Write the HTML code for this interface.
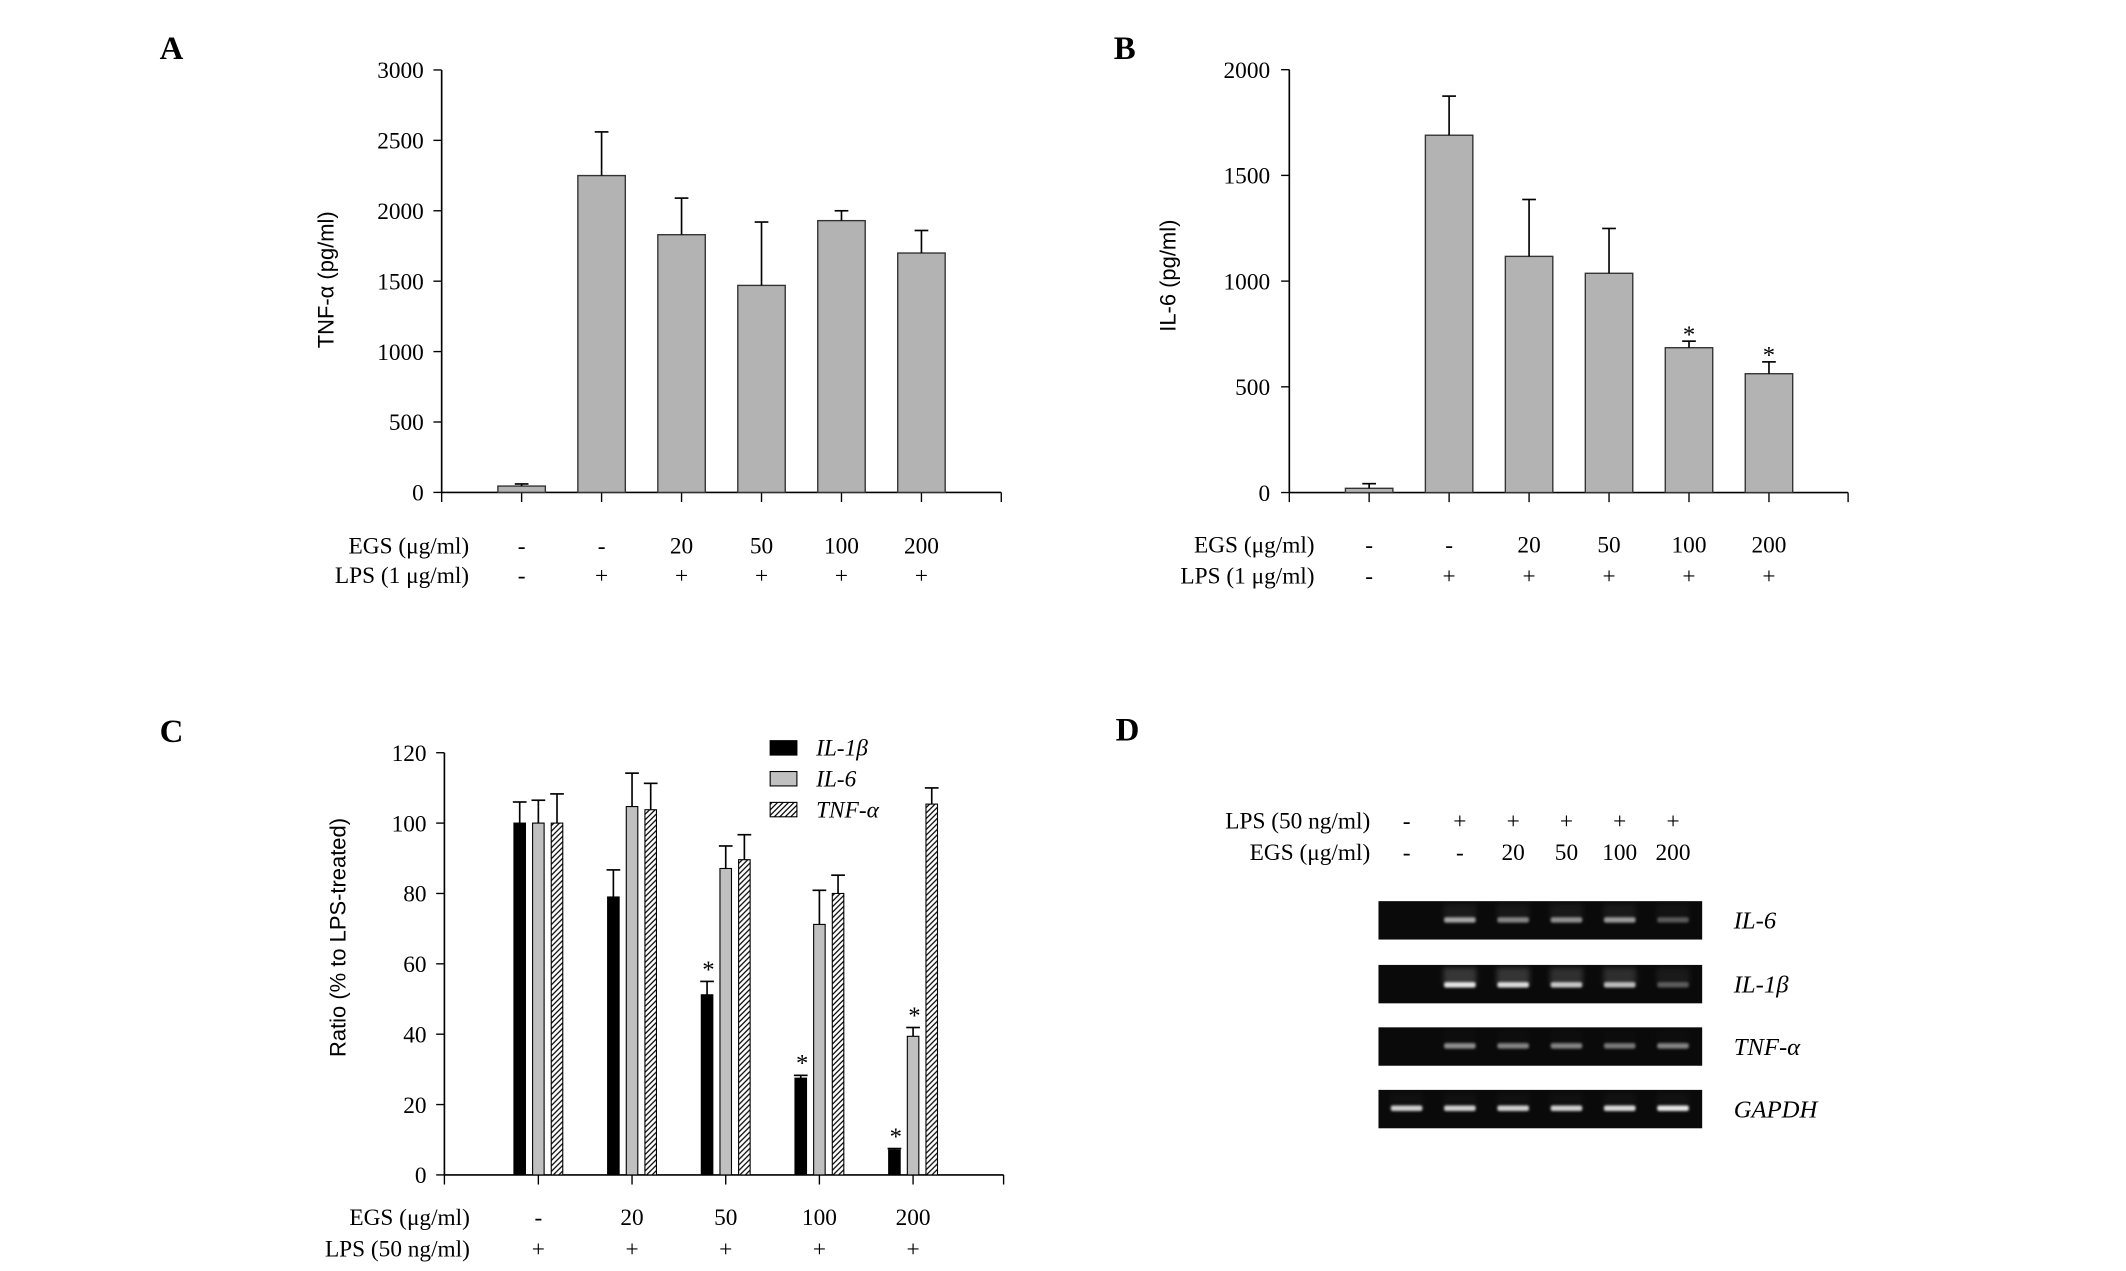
<!DOCTYPE html>
<html><head><meta charset="utf-8"><style>
html,body{margin:0;padding:0;background:#fff;}
svg{display:block;}
text{font-family:"Liberation Serif",serif;fill:#000;}
.sans{font-family:"Liberation Sans",sans-serif;}
</style></head><body>
<svg id="fig" xmlns="http://www.w3.org/2000/svg" width="2126" height="1271" viewBox="0 0 1550 926.65" preserveAspectRatio="none">
<defs>
<pattern id="hatch" patternUnits="userSpaceOnUse" width="4" height="4">
<rect width="4" height="4" fill="#fff"/>
<path d="M-1,1 l2,-2 M0,4 l4,-4 M3,5 l2,-2" stroke="#000" stroke-width="0.9"/>
</pattern>
<filter id="blur" x="-20%" y="-200%" width="140%" height="500%"><feGaussianBlur stdDeviation="0.9"/></filter>
<filter id="blur2" x="-20%" y="-100%" width="140%" height="300%"><feGaussianBlur stdDeviation="2"/></filter>
</defs>
<g id="root"></g>
</svg>
<script>
// Panel A data
const catsA = ["c1","c2","c3","c4","c5","c6"];
const egsLabels = ["-","-","20","50","100","200"];
const lpsLabels = ["-","+","+","+","+","+"];
const valsA = [45,2250,1830,1470,1930,1700];
const errA = [60,2560,2090,1920,2000,1860];
const ticksA = [0,500,1000,1500,2000,2500,3000];
// Panel B data
const valsB = [20,1690,1117,1037,685,562];
const errB = [42,1875,1386,1249,716,618];
const starsB = [0,0,0,0,1,1];
const ticksB = [0,500,1000,1500,2000];
// Panel C data
const egsC = ["-","20","50","100","200"];
const lpsC = ["+","+","+","+","+"];
const il1b = [100,79,51.2,27.5,7.1];
const il1bErr = [106,86.7,55,28.3,7.5];
const il6C = [100,104.7,87.1,71.2,39.4];
const il6Err = [106.5,114.2,93.5,80.9,41.9];
const tnfC = [100,103.8,89.6,80,105.4];
const tnfErr = [108.3,111.3,96.7,85.2,110];
const starIl1b = [0,0,1,1,1];
const starIl6 = [0,0,0,0,1];
const ticksC = [0,20,40,60,80,100,120];
// Panel D data
const lpsD = ["-","+","+","+","+","+"];
const egsD = ["-","-","20","50","100","200"];
const genes = ["IL-6","IL-1β","TNF-α","GAPDH"];
const bandIL6 = [0,0.7,0.55,0.6,0.65,0.35];
const bandIL1b = [0,1,0.95,0.85,0.8,0.35];
const bandTNF = [0,0.6,0.55,0.55,0.5,0.55];
const bandGAPDH = [0.9,0.9,0.9,0.9,0.95,1];

const NS="http://www.w3.org/2000/svg";
const root=document.getElementById('root');
function el(tag,attrs,parent,txt){const e=document.createElementNS(NS,tag);for(const k in attrs)e.setAttribute(k,attrs[k]);if(txt!==undefined)e.textContent=txt;(parent||root).appendChild(e);return e;}
function grp(name){const g=el('g',{});


return g;}

function barPanel(o){
  const g=grp(o.name);
  const y=v=>o.y0-v/o.ymax*o.yh;
  const cx=i=>o.c0+i*o.step;
  const ax=el('line',{x1:o.ax,y1:o.y0,x2:o.ax,y2:o.y0-o.yh,stroke:'#000','stroke-width':1.2},g);
  
  
  const xx=el('line',{x1:o.ax,y1:o.y0,x2:o.axEnd,y2:o.y0,stroke:'#000','stroke-width':1.2},g);
  
  
  o.ticks.forEach(t=>{
    el('line',{x1:o.ax-6,y1:y(t),x2:o.ax,y2:y(t),stroke:'#000','stroke-width':1},g);
    const tl=el('text',{x:o.tlx,y:y(t)+6,'text-anchor':'end','font-size':17},g,String(t));
    
    
  });
  const xt=[o.ax,o.axEnd];
  for(let i=0;i<o.n;i++)xt.push(cx(i));
  xt.forEach(x=>el('line',{x1:x,y1:o.y0,x2:x,y2:o.y0+7,stroke:'#000','stroke-width':1},g));
  const tt=el('text',{class:'sans',x:0,y:0,'text-anchor':'middle','font-size':16,transform:`translate(${o.tx},${o.ty}) rotate(-90)`},g,o.title);
  
  
  return {g,y,cx};
}
function errBar(g,x,yTop,yErr){
  el('line',{x1:x,y1:yTop,x2:x,y2:yErr,stroke:'#000','stroke-width':1.2},g);
  el('line',{x1:x-5,y1:yErr,x2:x+5,y2:yErr,stroke:'#000','stroke-width':1.2},g);
}
function rowLabels(g,xr,yE,yL,eTxt,lTxt,egs,lps,cx){
  const a=el('text',{x:xr,y:yE,'text-anchor':'end','font-size':17},g,eTxt);
  
  
  const b=el('text',{x:xr,y:yL,'text-anchor':'end','font-size':17},g,lTxt);
  
  
  egs.forEach((t,i)=>{const e=el('text',{x:cx(i),y:yE,'text-anchor':'middle','font-size':17},g,t);
    
    });
  lps.forEach((t,i)=>{const e=el('text',{x:cx(i),y:yL,'text-anchor':'middle','font-size':17},g,t);
    
    });
}
function panelLetter(t,x,y){const e=el('text',{x:x,y:y,'text-anchor':'middle','font-size':24,'font-weight':'bold'},root,t);
  
  }

// Panel A
panelLetter('A',125,43);
{
 const P=barPanel({name:'panel-a-tnf-chart',ax:322,axEnd:730,y0:359,yh:308,ymax:3000,c0:380.3,step:58.3,n:6,ticks:ticksA,tlx:309,title:'TNF-α (pg/ml)',tx:243,ty:204});
 valsA.forEach((v,i)=>{
  const r=el('rect',{x:P.cx(i)-17.3,y:P.y(v),width:34.6,height:P.y(0)-P.y(v),fill:'#b3b3b3',stroke:'#333','stroke-width':1},P.g);
  
  
  errBar(P.g,P.cx(i),P.y(v),P.y(errA[i]));
 });
 rowLabels(P.g,342,403.5,425,'EGS (μg/ml)','LPS (1 μg/ml)',egsLabels,lpsLabels,P.cx);
}
// Panel B
panelLetter('B',820,43);
{
 const P=barPanel({name:'panel-b-il6-chart',ax:940,axEnd:1347.4,y0:359.1,yh:308.3,ymax:2000,c0:998.2,step:58.3,n:6,ticks:ticksB,tlx:926,title:'IL-6 (pg/ml)',tx:857,ty:201});
 valsB.forEach((v,i)=>{
  const r=el('rect',{x:P.cx(i)-17.3,y:P.y(v),width:34.6,height:P.y(0)-P.y(v),fill:'#b3b3b3',stroke:'#333','stroke-width':1},P.g);
  
  
  errBar(P.g,P.cx(i),P.y(v),P.y(errB[i]));
  if(starsB[i]){const s=el('text',{x:P.cx(i),y:P.y(errB[i])+1,'text-anchor':'middle','font-size':18},P.g,'*');
   
   }
 });
 rowLabels(P.g,958.4,403,425.6,'EGS (μg/ml)','LPS (1 μg/ml)',egsLabels,lpsLabels,P.cx);
}
// Panel C
panelLetter('C',125,541);
{
 const P=barPanel({name:'panel-c-ratio-chart',ax:324,axEnd:731.7,y0:856.6,yh:307.8,ymax:120,c0:392.5,step:68.3,n:5,ticks:ticksC,tlx:311,title:'Ratio (% to LPS-treated)',tx:252,ty:683.5});
 const off=13.6,w=8.4;
 const series=[[il1b,il1bErr,'#000','il1b',starIl1b,-off],[il6C,il6Err,'#c0c0c0','il6',starIl6,0],[tnfC,tnfErr,'url(#hatch)','tnf',null,off]];
 series.forEach(s=>{
  s[0].forEach((v,i)=>{
   const x=P.cx(i)+s[5];
   const r=el('rect',{x:x-w/2,y:P.y(v),width:w,height:P.y(0)-P.y(v),fill:s[2],stroke:'#000','stroke-width':0.8},P.g);
   
   
   errBar(P.g,x,P.y(v),P.y(s[1][i]));
   if(s[4]&&s[4][i]){const st=el('text',{x:x+1,y:P.y(s[1][i])-3,'text-anchor':'middle','font-size':18},P.g,'*');
    
    }
  });
 });
 rowLabels(P.g,342.6,893,916,'EGS (μg/ml)','LPS (50 ng/ml)',egsC,lpsC,P.cx);
 const lg=el('g',{},P.g);
 
 
 const lfills=['#000','#c0c0c0','url(#hatch)'];
 const lnames=['IL-1β','IL-6','TNF-α'];
 lnames.forEach((n,k)=>{
  const yy=545+k*22.5;
  const e=el('g',{},lg);
  
  
  el('rect',{x:561.5,y:yy-5,width:19.5,height:10.5,fill:lfills[k],stroke:'#000','stroke-width':0.8},e);
  el('text',{x:595,y:yy+6,'font-size':17,'font-style':'italic'},e,n);
 });
}
// Panel D
panelLetter('D',822,540);
{
 const g=grp('panel-d-gel');
 const lane=i=>1025.5+i*38.85;
 rowLabels(g,999,604,627,'LPS (50 ng/ml)','EGS (μg/ml)',lpsD,egsD,lane);
 const rows=[[bandIL6,657,670.7,0.5],[bandIL1b,703.5,718,1],[bandTNF,749,762.5,0.1],[bandGAPDH,794.6,808,0.15]];
 rows.forEach((r,k)=>{
  const gg=el('g',{},g);
  
  
  el('rect',{x:1005,y:r[1],width:236,height:28,fill:'#0a0a0a'},gg);
  r[0].forEach((v,i)=>{
   if(v<=0)return;
   el('rect',{x:lane(i)-12,y:r[1]+2,width:24,height:r[2]-r[1]-2,fill:'#fff',opacity:v*0.18*r[3],filter:'url(#blur2)'},gg);
   el('rect',{x:lane(i)-11.5,y:r[2]-2,width:23,height:4,rx:1.5,fill:'#fff',opacity:Math.min(1,v*0.9),filter:'url(#blur)'},gg);
  });
  const t=el('text',{x:1264,y:r[1]+20,'font-size':18,'font-style':'italic'},gg,genes[k]);
  
  
 });
}
</script>
</body></html>
